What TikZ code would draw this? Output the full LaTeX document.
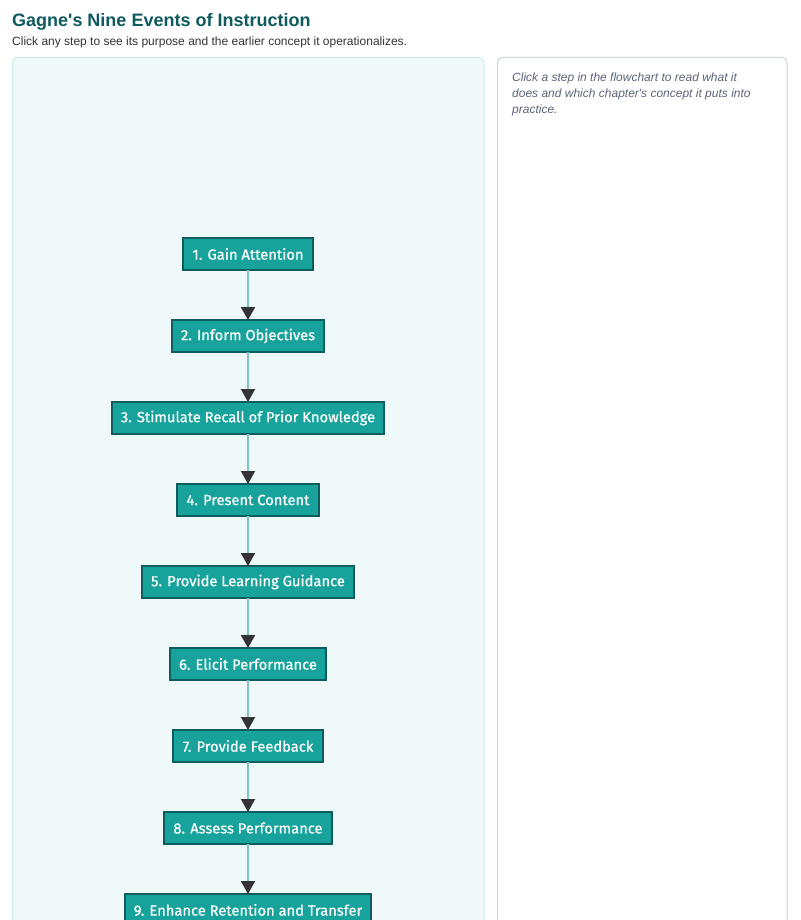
\documentclass[tikz,border=0pt]{standalone}
\usepackage{fontspec}
\setmainfont{Liberation Sans}
\newfontfamily\stepfont{Fira Sans}[FakeBold=0.6]
\usepackage{tikz}
\usetikzlibrary{positioning,arrows.meta}
\definecolor{ink}      {HTML}{333333}
\definecolor{titleink} {HTML}{0E5A5E}
\definecolor{teal}     {HTML}{17A39C}
\definecolor{tealdark} {HTML}{0F5E5F}
\definecolor{link}     {HTML}{7FC4BF}
\definecolor{panelbg}  {HTML}{F0F9FA}
\definecolor{panelrule}{HTML}{C9ECEC}
\definecolor{siderule} {HTML}{CDD5DE}
\definecolor{hint}     {HTML}{5B6579}
\tikzset{
  % --- nodes
  stepbox/.style = {rectangle, draw=tealdark, fill=teal, line width=2pt,
                    text=white, font=\stepfont\fontsize{14.7}{16}\selectfont,
                    minimum height=32pt, inner xsep=9.3pt, outer sep=0pt},
  panel/.style   = {rounded corners=5pt, line width=1pt},
  % --- edges
  e/.style       = {draw=link, line width=2pt,
                    -{Triangle[length=13pt, width=14pt, fill=ink, color=ink]}},
}
\begin{document}
\begin{tikzpicture}[x=1pt, y=-1pt, node distance=50pt]
  \useasboundingbox (0,0) rectangle (800,920);
  \clip (0,0) rectangle (800,920);
  % header
  \node[anchor=base west, inner sep=0pt, text=titleink,
        font=\bfseries\fontsize{18}{22}\selectfont] (title) at (12,26.5)
        {Gagne\textquotesingle s Nine Events of Instruction};
  \node[anchor=base west, inner sep=0pt, text=ink,
        font=\fontsize{12}{14}\selectfont] (sub) at (12,45.5)
        {Click any step to see its purpose and the earlier concept it operationalizes.};
  % panels
  \draw[panel, draw=panelrule, fill=panelbg] (12.5,57.5) rectangle (484,960);
  \draw[panel, draw=siderule, fill=white] (497.5,57.5) rectangle (787,960);
  \node[anchor=north west, inner sep=0pt, text=hint, align=left,
        font=\itshape\fontsize{12}{16}\selectfont] (info) at (512,73)
        {Click a step in the flowchart to read what it\\
         does and which chapter\textquotesingle s concept it puts into\\
         practice.};
  % flowchart
  \node[stepbox] (s1) at (248,254) {1. Gain Attention};
  \node[stepbox, below=of s1] (s2) {2. Inform Objectives};
  \node[stepbox, below=of s2] (s3) {3. Stimulate Recall of Prior Knowledge};
  \node[stepbox, below=of s3] (s4) {4. Present Content};
  \node[stepbox, below=of s4] (s5) {5. Provide Learning Guidance};
  \node[stepbox, below=of s5] (s6) {6. Elicit Performance};
  \node[stepbox, below=of s6] (s7) {7. Provide Feedback};
  \node[stepbox, below=of s7] (s8) {8. Assess Performance};
  \node[stepbox, below=of s8] (s9) {9. Enhance Retention and Transfer};
  \draw[e] (s1) -- (s2); \draw[e] (s2) -- (s3); \draw[e] (s3) -- (s4);
  \draw[e] (s4) -- (s5); \draw[e] (s5) -- (s6); \draw[e] (s6) -- (s7);
  \draw[e] (s7) -- (s8); \draw[e] (s8) -- (s9);
\end{tikzpicture}
\end{document}
